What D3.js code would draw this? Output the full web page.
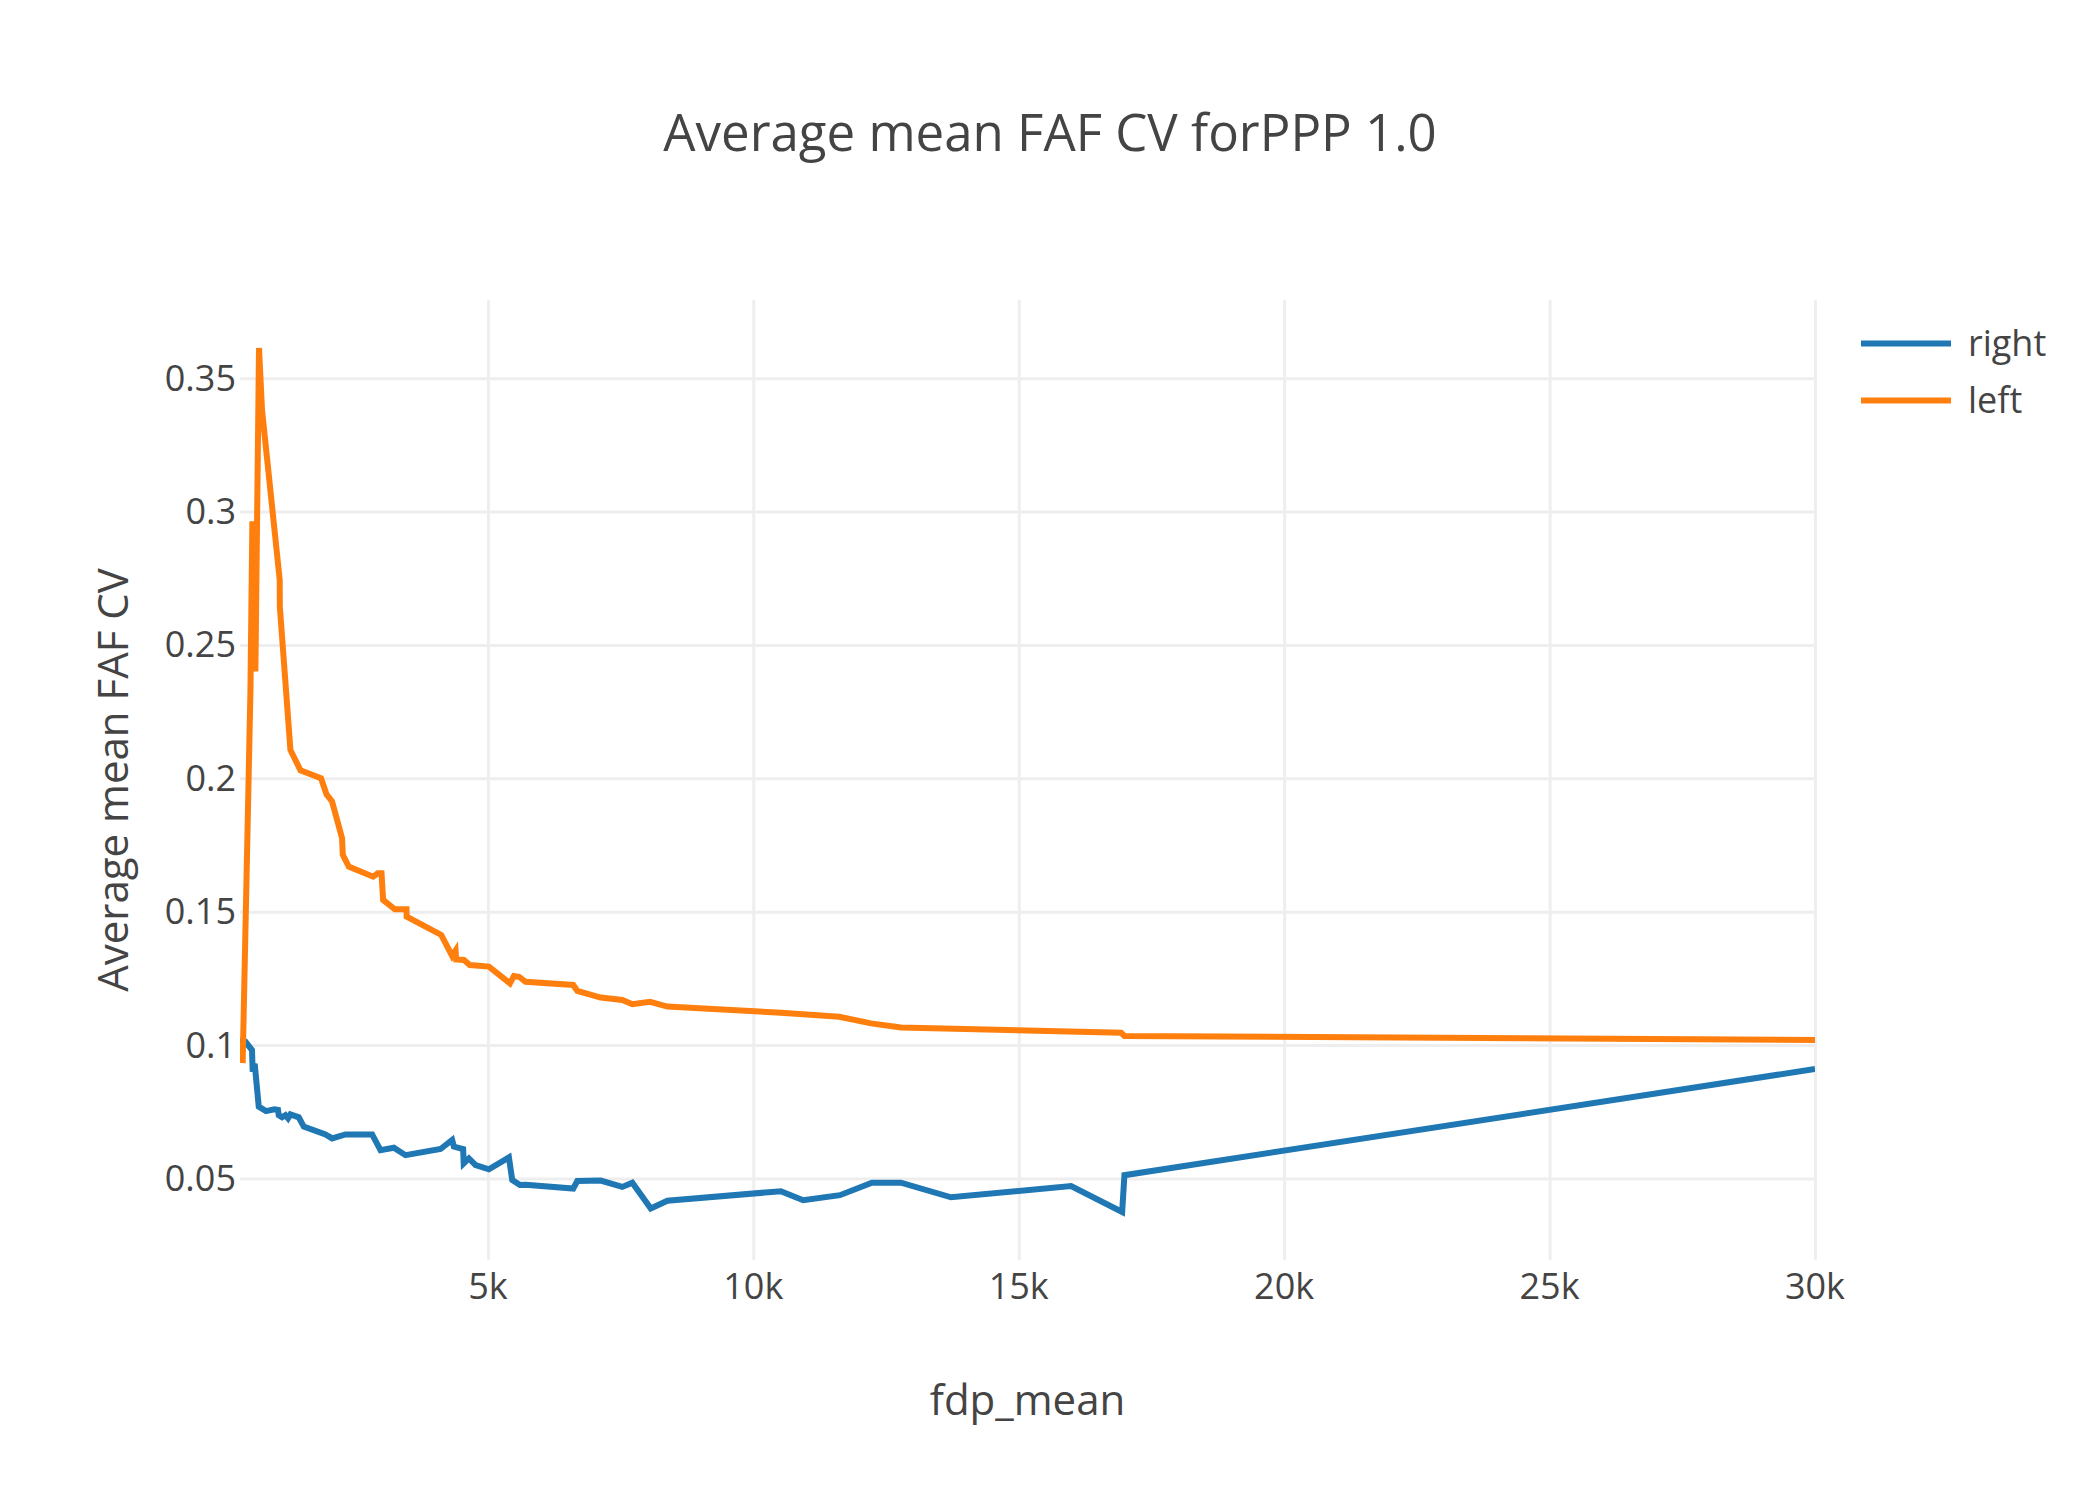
<!DOCTYPE html>
<html lang="en">
<head>
	<meta charset="utf-8">
	<title>Average mean FAF CV forPPP 1.0</title>
	<script src="https://d3js.org/d3.v7.min.js"></script>
	<style type="text/css">
		body { margin: 0; background: #fff; }
		text { font-family: "Open Sans", verdana, arial, sans-serif; fill: #444; }
	</style>
</head>
<body>
	<div id="chart"></div>

<script type="text/javascript">
	// series (fdp_mean vs average mean FAF CV)
	var rightX = [330, 432, 556, 569, 607, 683, 820, 979, 1046, 1060, 1122, 1186, 1235, 1280,
		1437, 1531, 1940, 2065, 2317, 2819, 2977, 3228, 3448, 4108, 4327, 4359, 4534, 4544,
		4642, 4768, 5019, 5396, 5458, 5603, 5711, 6608, 6684, 7125, 7532, 7721, 8068, 8381,
		10519, 10939, 11631, 12234, 12781, 13724, 15986, 16948, 16991, 30000];
	var rightY = [0.1019, 0.1013, 0.0981, 0.0900, 0.0930, 0.0769, 0.0752, 0.0759, 0.0757, 0.0737,
		0.0729, 0.0737, 0.0725, 0.0740, 0.0729, 0.0694, 0.0665, 0.0650, 0.0665, 0.0665, 0.0606,
		0.0615, 0.0587, 0.0610, 0.0644, 0.0619, 0.0610, 0.0556, 0.0575, 0.0550, 0.0534, 0.0579,
		0.0494, 0.0475, 0.0476, 0.0462, 0.0490, 0.0492, 0.0468, 0.0484, 0.0387, 0.0416, 0.0452,
		0.0418, 0.0437, 0.0484, 0.0484, 0.0429, 0.0471, 0.0374, 0.0512, 0.0910];

	var leftX = [380, 526, 563, 620, 688, 745, 1078, 1080, 1280, 1469, 1857, 1959, 2064, 2253,
		2266, 2379, 2838, 2926, 2996, 3026, 3247, 3467, 3470, 4120, 4327, 4391, 4402, 4548,
		4661, 5019, 5415, 5490, 5585, 5711, 6608, 6684, 7125, 7532, 7721, 8054, 8381, 10519,
		11618, 12216, 12781, 16929, 16991, 30000];
	var leftY = [0.0932, 0.2320, 0.2963, 0.2400, 0.3613, 0.3380, 0.2744, 0.2644, 0.2106, 0.2030,
		0.2000, 0.1940, 0.1913, 0.1775, 0.1713, 0.1669, 0.1631, 0.1644, 0.1644, 0.1544, 0.1509,
		0.1509, 0.1481, 0.1413, 0.1334, 0.1354, 0.1321, 0.1319, 0.1300, 0.1294, 0.1231, 0.1259,
		0.1256, 0.1237, 0.1225, 0.1203, 0.1178, 0.1169, 0.1153, 0.1162, 0.1144, 0.1121, 0.1106,
		0.1081, 0.1066, 0.1046, 0.1034, 0.1019];

	var seriesNames = ["right", "left"];
	var seriesColors = ["#1f77b4", "#ff7f0e"];

	var xTickVals = [5000, 10000, 15000, 20000, 25000, 30000];
	var xTickLabels = ["5k", "10k", "15k", "20k", "25k", "30k"];
	var yTickVals = [0.05, 0.1, 0.15, 0.2, 0.25, 0.3, 0.35];
	var yTickLabels = ["0.05", "0.1", "0.15", "0.2", "0.25", "0.3", "0.35"];

	var w = 2100;
	var h = 1500;
	var plotL = 240, plotR = 1815, plotT = 300, plotB = 1260;

	var series = [
		{ name: seriesNames[0], color: seriesColors[0], pts: rightX.map(function(x, i) { return [x, rightY[i]]; }) },
		{ name: seriesNames[1], color: seriesColors[1], pts: leftX.map(function(x, i) { return [x, leftY[i]]; }) }
	];

	var allX = rightX.concat(leftX);
	var allY = rightY.concat(leftY);
	var yMin = d3.min(allY), yMax = d3.max(allY);
	var pad = (yMax - yMin) / 18;   // 5% autorange padding, like plotly

	var x = d3.scaleLinear().domain(d3.extent(allX)).range([plotL, plotR]);
	var y = d3.scaleLinear().domain([yMin - pad, yMax + pad]).range([plotB, plotT]);

	var svg = d3.select("#chart")
		.append("svg")
		.attr("width", w)
		.attr("height", h);

	svg.append("rect")
		.attr("width", w)
		.attr("height", h)
		.attr("fill", "#fff");

	svg.append("defs").append("clipPath")
		.attr("id", "plotclip")
		.append("rect")
		.attr("x", plotL)
		.attr("y", plotT)
		.attr("width", plotR - plotL)
		.attr("height", plotB - plotT);

	// grid
	var xAxis = d3.axisBottom(x).tickValues(xTickVals).tickSize(-(plotB - plotT)).tickFormat("");
	var yAxis = d3.axisLeft(y).tickValues(yTickVals).tickSize(-(plotR - plotL)).tickFormat("");

	svg.append("g")
		.attr("class", "grid")
		.attr("transform", "translate(0," + plotB + ")")
		.call(xAxis);
	svg.append("g")
		.attr("class", "grid")
		.attr("transform", "translate(" + plotL + ",0)")
		.call(yAxis);

	svg.selectAll(".grid .domain").remove();
	svg.selectAll(".grid line")
		.attr("stroke", "#eee")
		.attr("stroke-width", 3);

	// tick labels
	svg.selectAll("text.xtick")
		.data(xTickVals)
		.enter()
		.append("text")
		.attr("class", "xtick")
		.attr("x", function(d) { return x(d); })
		.attr("y", 1299)
		.attr("text-anchor", "middle")
		.attr("font-size", "36px")
		.text(function(d, i) { return xTickLabels[i]; });

	svg.selectAll("text.ytick")
		.data(yTickVals)
		.enter()
		.append("text")
		.attr("class", "ytick")
		.attr("x", 236)
		.attr("y", function(d) { return y(d); })
		.attr("dy", "0.35em")
		.attr("text-anchor", "end")
		.attr("font-size", "36px")
		.text(function(d, i) { return yTickLabels[i]; });

	// lines
	var line = d3.line()
		.x(function(d) { return x(d[0]); })
		.y(function(d) { return y(d[1]); });

	svg.append("g")
		.attr("clip-path", "url(#plotclip)")
		.selectAll("path")
		.data(series)
		.enter()
		.append("path")
		.attr("d", function(d) { return line(d.pts); })
		.attr("fill", "none")
		.attr("stroke", function(d) { return d.color; })
		.attr("stroke-width", 6);

	// titles
	svg.append("text")
		.attr("x", w / 2)
		.attr("y", 151)
		.attr("text-anchor", "middle")
		.attr("font-size", "51px")
		.text("Average mean FAF CV forPPP 1.0");

	svg.append("text")
		.attr("x", (plotL + plotR) / 2)
		.attr("y", 1415)
		.attr("text-anchor", "middle")
		.attr("font-size", "42px")
		.text("fdp_mean");

	svg.append("text")
		.attr("transform", "translate(128," + ((plotT + plotB) / 2) + ") rotate(-90)")
		.attr("text-anchor", "middle")
		.attr("font-size", "42px")
		.text("Average mean FAF CV");

	// legend
	var legend = svg.selectAll("g.legend")
		.data(series)
		.enter()
		.append("g")
		.attr("class", "legend")
		.attr("transform", function(d, i) { return "translate(0," + (343.5 + i * 57) + ")"; });

	legend.append("line")
		.attr("x1", 1861)
		.attr("x2", 1951)
		.attr("y1", 0)
		.attr("y2", 0)
		.attr("stroke", function(d) { return d.color; })
		.attr("stroke-width", 6);

	legend.append("text")
		.attr("x", 1968)
		.attr("y", 0)
		.attr("dy", "0.35em")
		.attr("font-size", "36px")
		.text(function(d) { return d.name; });
</script>
</body>
</html>
